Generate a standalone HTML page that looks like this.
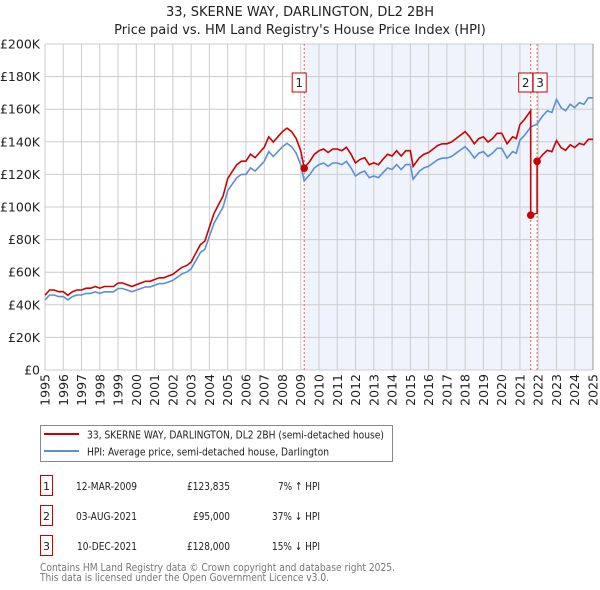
<!DOCTYPE html>
<html><head><meta charset="utf-8"><style>
body{margin:0;background:#fff;font-family:"Liberation Sans","DejaVu Sans",sans-serif;}
#wrap{position:relative;width:600px;height:590px;overflow:hidden}
svg text{font-family:"DejaVu Sans","Liberation Sans",sans-serif}
</style></head><body><div id="wrap">
<svg id="chart" width="600" height="590"></svg>
</div>
<script>
const hpiYears=[1995,1995.25,1995.5,1995.75,1996,1996.25,1996.5,1996.75,1997,1997.25,1997.5,1997.75,1998,1998.25,1998.5,1998.75,1999,1999.25,1999.5,1999.75,2000,2000.25,2000.5,2000.75,2001,2001.25,2001.5,2001.75,2002,2002.25,2002.5,2002.75,2003,2003.25,2003.5,2003.75,2004,2004.25,2004.5,2004.75,2005,2005.25,2005.5,2005.75,2006,2006.25,2006.5,2006.75,2007,2007.25,2007.5,2007.75,2008,2008.25,2008.5,2008.75,2009,2009.19,2009.5,2009.75,2010,2010.25,2010.5,2010.75,2011,2011.25,2011.5,2011.75,2012,2012.25,2012.5,2012.75,2013,2013.25,2013.5,2013.75,2014,2014.25,2014.5,2014.75,2015,2015.15,2015.5,2015.75,2016,2016.25,2016.5,2016.75,2017,2017.25,2017.5,2017.75,2018,2018.25,2018.5,2018.75,2019,2019.25,2019.5,2019.75,2020,2020.3,2020.6,2020.8,2021,2021.25,2021.59,2021.94,2022.25,2022.5,2022.75,2023,2023.25,2023.5,2023.75,2024,2024.25,2024.5,2024.75,2025];
const hpiValues=[43,46,46,45,45,43,45,46,46,47,47,48,47,48,48,48,50,50,49,48,49,50,51,51,52,53,53,54,55,57,59,60,62,67,72,74,82,90,95,100,110,114,118,120,120,124,122,125,128,134,131,134,137,139,137,133,126,116,120,124,126,127,125,127,127,126,128,124,119,121,122,118,119,118,121,124,123,126,123,126,126,117,122,124,125,127,129,130,130,131,133,135,137,134,130,133,134,131,133,136,136,130,134,133,141,144,149,151,156,159,158,166,161,159,163,161,164,163,167,167];
const saleDates=[2009.19,2021.59,2021.94];
const salePrices=[123.835,95,128];
const saleLabels=["1","2","3"];
const yTicks=[0,20,40,60,80,100,120,140,160,180,200];
const yTickLabels=["£0","£20K","£40K","£60K","£80K","£100K","£120K","£140K","£160K","£180K","£200K"];
const xYears=[1995,1996,1997,1998,1999,2000,2001,2002,2003,2004,2005,2006,2007,2008,2009,2010,2011,2012,2013,2014,2015,2016,2017,2018,2019,2020,2021,2022,2023,2024,2025];

const X0=45,X1=593,Y0=370,Y1=44;
const sx=v=>X0+(v-1995)/30*(X1-X0);
const sy=v=>Y0-v/200*(Y0-Y1);
const NS="http://www.w3.org/2000/svg";
const svg=document.getElementById('chart');
function mk(t,a,p){const e=document.createElementNS(NS,t);for(const k in a)e.setAttribute(k,a[k]);(p||svg).appendChild(e);return e;}
function hpiAt(d){for(let i=0;i<hpiYears.length-1;i++){if(d>=hpiYears[i]&&d<=hpiYears[i+1]){const f=(d-hpiYears[i])/(hpiYears[i+1]-hpiYears[i]);return hpiValues[i]+f*(hpiValues[i+1]-hpiValues[i]);}}return hpiValues[hpiValues.length-1];}

let t=mk('text',{x:300,y:16,'text-anchor':'middle','font-size':13,fill:'#222'});t.textContent="33, SKERNE WAY, DARLINGTON, DL2 2BH";

t=mk('text',{x:300,y:34,'text-anchor':'middle','font-size':13,fill:'#222'});t.textContent="Price paid vs. HM Land Registry's House Price Index (HPI)";


let r=mk('rect',{x:sx(saleDates[0]),y:Y1,width:sx(saleDates[1])-sx(saleDates[0]),height:Y0-Y1,fill:'#eef3fc'});

r=mk('rect',{x:sx(saleDates[2]),y:Y1,width:X1-sx(saleDates[2]),height:Y0-Y1,fill:'#eef3fc'});


yTicks.forEach((v,i)=>{const l=mk('line',{x1:X0,x2:X1,y1:sy(v),y2:sy(v),stroke:'#cccccc','stroke-width':1});

const tx=mk('text',{x:40,y:sy(v)+4.5,'text-anchor':'end','font-size':12.5,fill:'#222'});tx.textContent=yTickLabels[i];
});
xYears.forEach(v=>{const l=mk('line',{x1:sx(v),x2:sx(v),y1:Y1,y2:Y0,stroke:'#cccccc','stroke-width':1});

const tx=mk('text',{x:0,y:0,'text-anchor':'end','font-size':12.5,fill:'#222',transform:`translate(${sx(v)+4.5},374) rotate(-90)`});tx.textContent=v;
});
let ax=mk('line',{x1:X1,x2:X1,y1:Y1,y2:Y0,stroke:'#999','stroke-width':1});


saleDates.forEach(d=>{const l=mk('line',{x1:sx(d),x2:sx(d),y1:Y1,y2:Y0,stroke:'#e06060','stroke-width':1,'stroke-dasharray':'2,2'});
});

let pts=hpiYears.map((y,i)=>sx(y).toFixed(1)+','+sy(hpiValues[i]).toFixed(1)).join(' ');
let pl=mk('polyline',{points:pts,fill:'none',stroke:'#5b8fd4','stroke-width':1.6});


const ratios=saleDates.map((d,i)=>salePrices[i]/hpiAt(d));
function ratioAt(d){let k=0;for(let i=0;i<saleDates.length;i++)if(d>=saleDates[i])k=i;return ratios[k];}
let rp=[];
hpiYears.forEach((y,i)=>{
  saleDates.forEach((d,j)=>{if(i>0&&hpiYears[i-1]<d&&y>=d){const h=hpiAt(d);if(j>0)rp.push([d,h*ratios[j-1]]);rp.push([d,h*ratios[j]]);}});
  rp.push([y,hpiValues[i]*ratioAt(y)]);
});
pl=mk('polyline',{points:rp.map(p=>sx(p[0]).toFixed(1)+','+sy(p[1]).toFixed(1)).join(' '),fill:'none',stroke:'#cc0000','stroke-width':1.6});


saleDates.forEach((d,i)=>{
  const c=mk('circle',{cx:sx(d),cy:sy(salePrices[i]),r:3.8,fill:'#cc0000'});
  
  const bx= i==2 ? sx(d)-4 : sx(d)-12;
  const b=mk('rect',{x:bx,y:73,width:14,height:19,fill:'#fff',stroke:'#cc0000','stroke-width':1});
  
  const tx=mk('text',{x:bx+7,y:87,'text-anchor':'middle','font-size':12,fill:'#222'});tx.textContent=saleLabels[i];
  
});

let g=mk('rect',{x:40.5,y:425.5,width:352,height:36,fill:'#fff',stroke:'#888','stroke-width':1});

let ll=mk('line',{x1:44,x2:79,y1:434,y2:434,stroke:'#cc0000','stroke-width':2});

t=mk('text',{x:87,y:438.5,'font-size':11,fill:'#222',textLength:297,lengthAdjust:'spacingAndGlyphs'});t.textContent="33, SKERNE WAY, DARLINGTON, DL2 2BH (semi-detached house)";

ll=mk('line',{x1:44,x2:79,y1:451,y2:451,stroke:'#5b8fd4','stroke-width':2});

t=mk('text',{x:87,y:455.5,'font-size':11,fill:'#222',textLength:242,lengthAdjust:'spacingAndGlyphs'});t.textContent="HPI: Average price, semi-detached house, Darlington";


const rowDates=["12-MAR-2009","03-AUG-2021","10-DEC-2021"];
const rowPrices=["£123,835","£95,000","£128,000"];
const rowHpi=["7% \u2191 HPI","37% \u2193 HPI","15% \u2193 HPI"];
const dateW=[61,61,60],priceW=[43,37,43],hpiW=[42,48,48];
rowDates.forEach((d,i)=>{
  const y=476+i*30;
  const b=mk('rect',{x:40.5,y:y-0.5,width:12,height:20,fill:'#fff',stroke:'#cc0000','stroke-width':1});
  
  let tx=mk('text',{x:46.5,y:y+14,'text-anchor':'middle','font-size':11,fill:'#222'});tx.textContent=saleLabels[i];
  
  tx=mk('text',{x:137-dateW[i],y:y+14,'font-size':11,fill:'#222',textLength:dateW[i],lengthAdjust:'spacingAndGlyphs'});tx.textContent=d;
  
  tx=mk('text',{x:230-priceW[i],y:y+14,'font-size':11,fill:'#222',textLength:priceW[i],lengthAdjust:'spacingAndGlyphs'});tx.textContent=rowPrices[i];
  
  tx=mk('text',{x:320-hpiW[i],y:y+14,'font-size':11,fill:'#222',textLength:hpiW[i],lengthAdjust:'spacingAndGlyphs'});tx.textContent=rowHpi[i];
  
});
t=mk('text',{x:40,y:571,'font-size':11,fill:'#777',textLength:355,lengthAdjust:'spacingAndGlyphs'});t.textContent="Contains HM Land Registry data © Crown copyright and database right 2025.";

t=mk('text',{x:40,y:581,'font-size':11,fill:'#777',textLength:289,lengthAdjust:'spacingAndGlyphs'});t.textContent="This data is licensed under the Open Government Licence v3.0.";

</script></body></html>
